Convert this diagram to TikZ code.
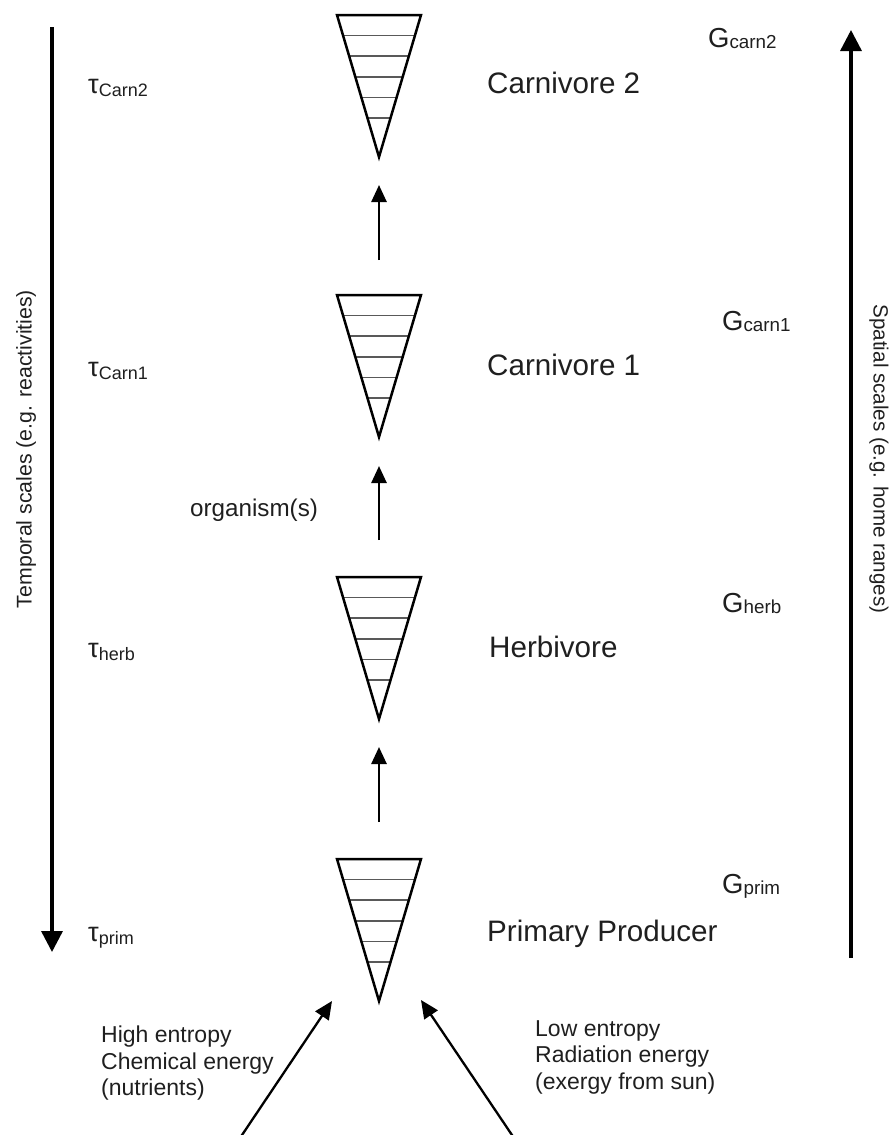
\documentclass[tikz,border=0pt]{standalone}
\usepackage{fontspec}
\setmainfont{Liberation Sans}
\usetikzlibrary{arrows.meta}
\newcommand{\fsz}[1]{\fontsize{#1}{#1}\selectfont}
\newcommand{\trophic}[2]{%
  \coordinate (#1top) at (379,#2);
  \coordinate (#1apex) at (379,#2+142);
  \foreach \k in {1,...,5} {
    \pgfmathsetmacro{\dy}{20.6*\k}
    \pgfmathsetmacro{\hw}{42*(1-\dy/142)}
    \draw[layerline] (379-\hw,#2+\dy) -- (379+\hw,#2+\dy);
  }
  \draw[triline] (337,#2) -- (421,#2) -- (379,#2+142) -- cycle;
}
\tikzset{
  triline/.style={line width=2.5pt, line join=miter, black},
  layerline/.style={line width=1.6pt, black!65},
  flow/.style={line width=2.6pt, -{Triangle[length=17pt,width=15pt]}},
  axisarrow/.style={line width=3.4pt, -{Triangle[length=21pt,width=21pt]}},
  inarrow/.style={line width=2.3pt, -{Triangle[length=18pt,width=16pt]}},
  labtext/.style={inner sep=0pt, text=black!88},
  levelname/.style={labtext, anchor=base west, font=\fsz{29.6}},
  inputtext/.style={labtext, anchor=north west, align=left, font=\fontsize{23}{26.5}\selectfont},
}
\begin{document}
\begin{tikzpicture}[x=1pt,y=-1pt]
\useasboundingbox (0,0) rectangle (894,1135);
\trophic{ca}{15}
\trophic{cb}{295}
\trophic{he}{577}
\trophic{pr}{859}
\draw[flow, shorten <=37pt, shorten >=28pt] (prtop) -- (heapex);
\draw[flow, shorten <=37pt, shorten >=29pt] (hetop) -- (cbapex);
\draw[flow, shorten <=35pt, shorten >=28pt] (cbtop) -- (caapex);
% axes
\coordinate (tA) at (52,27);
\coordinate (tB) at (52,952);
\coordinate (sA) at (851,958);
\coordinate (sB) at (851,30);
\draw[axisarrow] (tA) -- (tB);
\draw[axisarrow] (sA) -- (sB);
\node[labtext, rotate=90, font=\fsz{21.3}] (temporal) at (26,449) {Temporal scales (e.g. reactivities)};
\node[labtext, rotate=-90, font=\fsz{20.6}] (spatial) at (879,459) {Spatial scales (e.g. home ranges)};
% names
\node[levelname] (n1) at (487,93) {Carnivore 2};
\node[levelname] (n2) at (487,375) {Carnivore 1};
\node[levelname] (n3) at (489,657) {Herbivore};
\node[levelname] (n4) at (487,941) {Primary Producer};
\node[labtext, anchor=base west, font=\fsz{24.2}] (org) at (190,516) {organism(s)};
% tau labels
\node[labtext, anchor=base west, font=\fsz{27}] (t1) at (88,93) {τ\raisebox{-3pt}{\fsz{18}Carn2}};
\node[labtext, anchor=base west, font=\fsz{27}] (t2) at (88,376) {τ\raisebox{-3pt}{\fsz{18}Carn1}};
\node[labtext, anchor=base west, font=\fsz{27}] (t3) at (88,657) {τ\raisebox{-3pt}{\fsz{18}herb}};
\node[labtext, anchor=base west, font=\fsz{27}] (t4) at (88,941) {τ\raisebox{-3pt}{\fsz{18}prim}};
% G labels
\node[labtext, anchor=base west, font=\fsz{27.5}] (g1) at (708,47) {G\raisebox{-1.5pt}{\fsz{18.8}carn2}};
\node[labtext, anchor=base west, font=\fsz{27.5}] (g2) at (722,330) {G\raisebox{-1.5pt}{\fsz{18.8}carn1}};
\node[labtext, anchor=base west, font=\fsz{27.5}] (g3) at (722,612) {G\raisebox{-1.5pt}{\fsz{18.8}herb}};
\node[labtext, anchor=base west, font=\fsz{27.5}] (g4) at (722,893) {G\raisebox{-1.5pt}{\fsz{18.8}prim}};
% bottom inputs
\node[inputtext] (hi) at (101,1026) {High entropy\\Chemical energy\\(nutrients)};
\node[inputtext] (lo) at (535,1020) {Low entropy\\Radiation energy\\(exergy from sun)};
\coordinate (inL) at (240,1138);
\coordinate (tipL) at (332,1001);
\coordinate (inR) at (514,1138);
\coordinate (tipR) at (421,1000);
\draw[inarrow] (inL) -- (tipL);
\draw[inarrow] (inR) -- (tipR);
\end{tikzpicture}
\end{document}
